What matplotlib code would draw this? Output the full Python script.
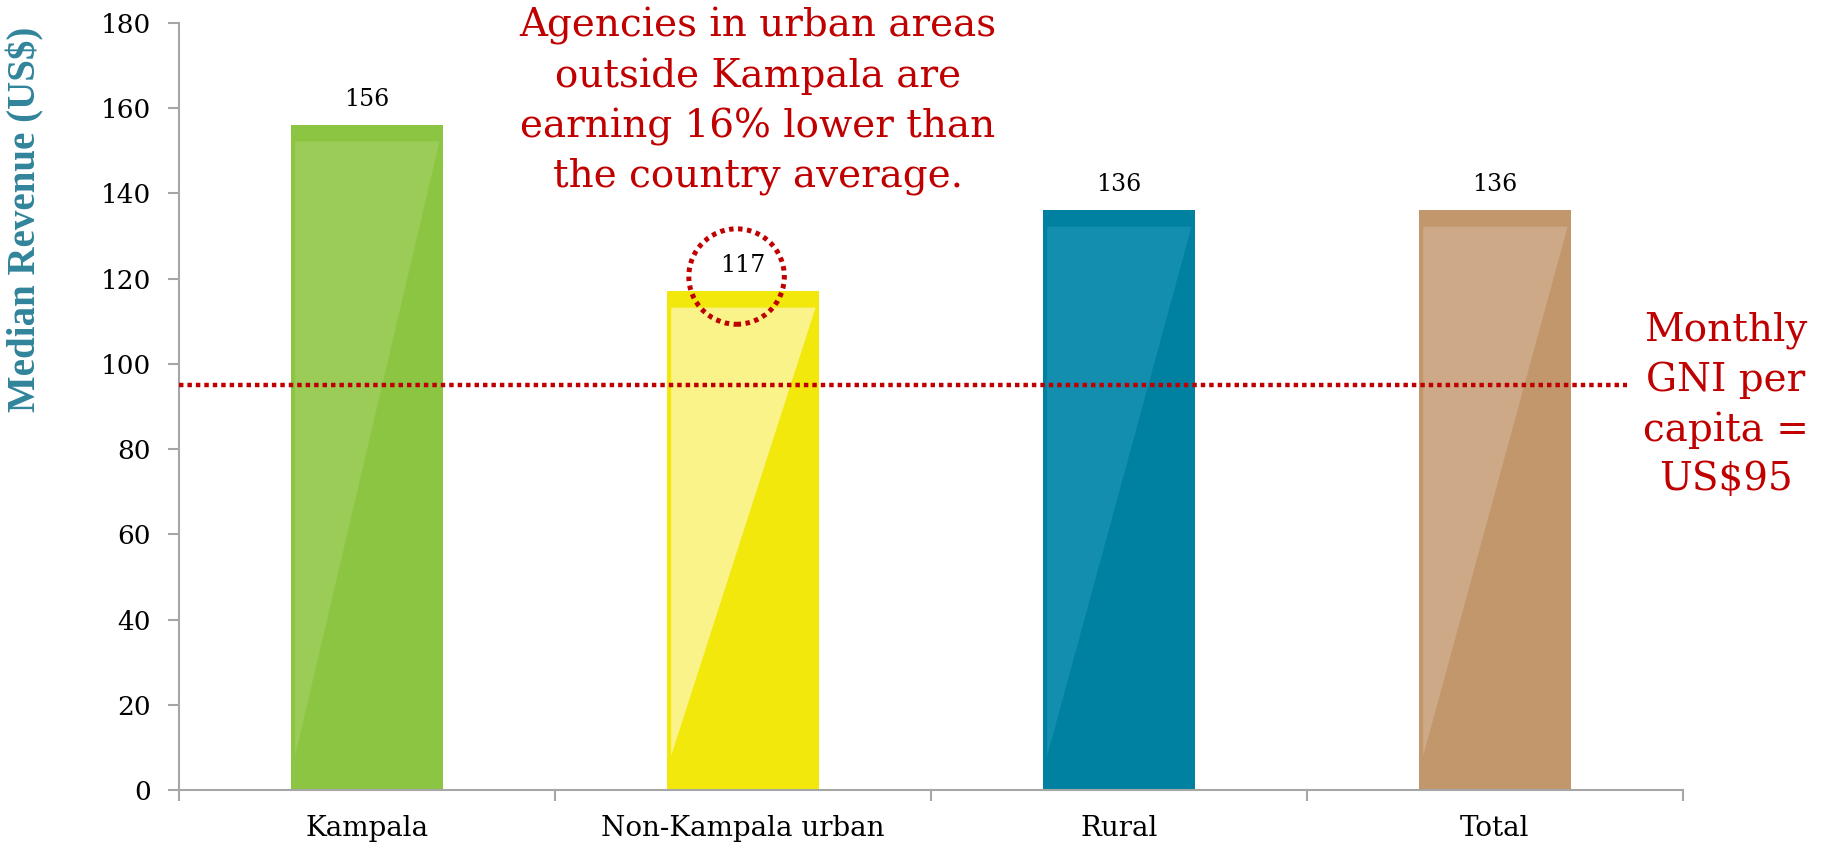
import matplotlib.pyplot as plt
from matplotlib.patches import Ellipse

categories = ["Kampala", "Non-Kampala urban", "Rural", "Total"]
revenue = [156, 117, 136, 136]
gni_monthly = 95
bar_colors = ["#8CC541", "#F2E80C", "#0081A2", "#C1976B"]
shine_colors = ["#9BCC57", "#F9F38A", "#138EAF", "#CDA988"]

red = "#C00000"
serif = ["DejaVu Serif"]

fig = plt.figure(figsize=(18.24, 8.46), dpi=100)
ax = fig.add_axes([0.0981, 0.0662, 0.8246, 0.9066])

width = 0.404
x = list(range(len(categories)))
ax.bar(x, revenue, width=width, color=bar_colors, zorder=2)

# lighter glossy wedge on each bar
for i, v in enumerate(revenue):
    left = i - width / 2 + 0.011
    right = i + width / 2 - 0.009
    top = v - 3.8
    ax.fill([left, right, left], [top, top, 8], color=shine_colors[i],
            lw=0, zorder=3)

for i, v in enumerate(revenue):
    ax.text(i, v + 6, str(v), ha="center", va="center", fontsize=17,
            family=serif, color="black", zorder=5)

# GNI reference line
ax.plot([-0.5, 3.35], [gni_monthly, gni_monthly], color=red, lw=3.2,
        linestyle=(0, (1, 0.9)), dash_capstyle="butt", zorder=4, clip_on=False)

# circle around the non-Kampala urban value
ax.add_patch(Ellipse((0.983, 120.5), 0.254, 22.4, fill=False, edgecolor=red,
                     lw=3.6, linestyle=(0, (0.9, 0.9)), zorder=5))

ax.text(1.04, 161.6,
        "Agencies in urban areas\noutside Kampala are\nearning 16% lower than\nthe country average.",
        ha="center", va="center", fontsize=28, family=serif, color=red,
        linespacing=1.42, zorder=6)
ax.text(3.614, 90.3, "Monthly\nGNI per\ncapita =\nUS$95",
        ha="center", va="center", fontsize=28, family=serif, color=red,
        linespacing=1.42, clip_on=False)

ax.set_xlim(-0.5, 3.5)
ax.set_ylim(0, 180)
ax.set_yticks(range(0, 181, 20))
ax.set_xticks(x)
ax.set_xticklabels(categories, fontsize=20, family=serif)
ax.set_xticks([-0.5, 0.5, 1.5, 2.5, 3.5], minor=True)
ax.tick_params(axis="x", which="major", length=0, pad=18)
ax.tick_params(axis="x", which="minor", length=8, width=1.5, color="#A6A6A6")
ax.tick_params(axis="y", length=8, width=1.5, color="#A6A6A6", pad=12,
               labelsize=19)
for lab in ax.get_yticklabels():
    lab.set_family(serif)

for side in ["top", "right"]:
    ax.spines[side].set_visible(False)
for side in ["left", "bottom"]:
    ax.spines[side].set_color("#A6A6A6")
    ax.spines[side].set_linewidth(1.5)

fig.text(0.014, 0.741, "Median Revenue (US$)", rotation=90, ha="center",
         va="center", fontsize=28, fontweight="bold", family=["Liberation Serif"],
         color="#31849B")

fig.savefig("out.png", dpi=100)
